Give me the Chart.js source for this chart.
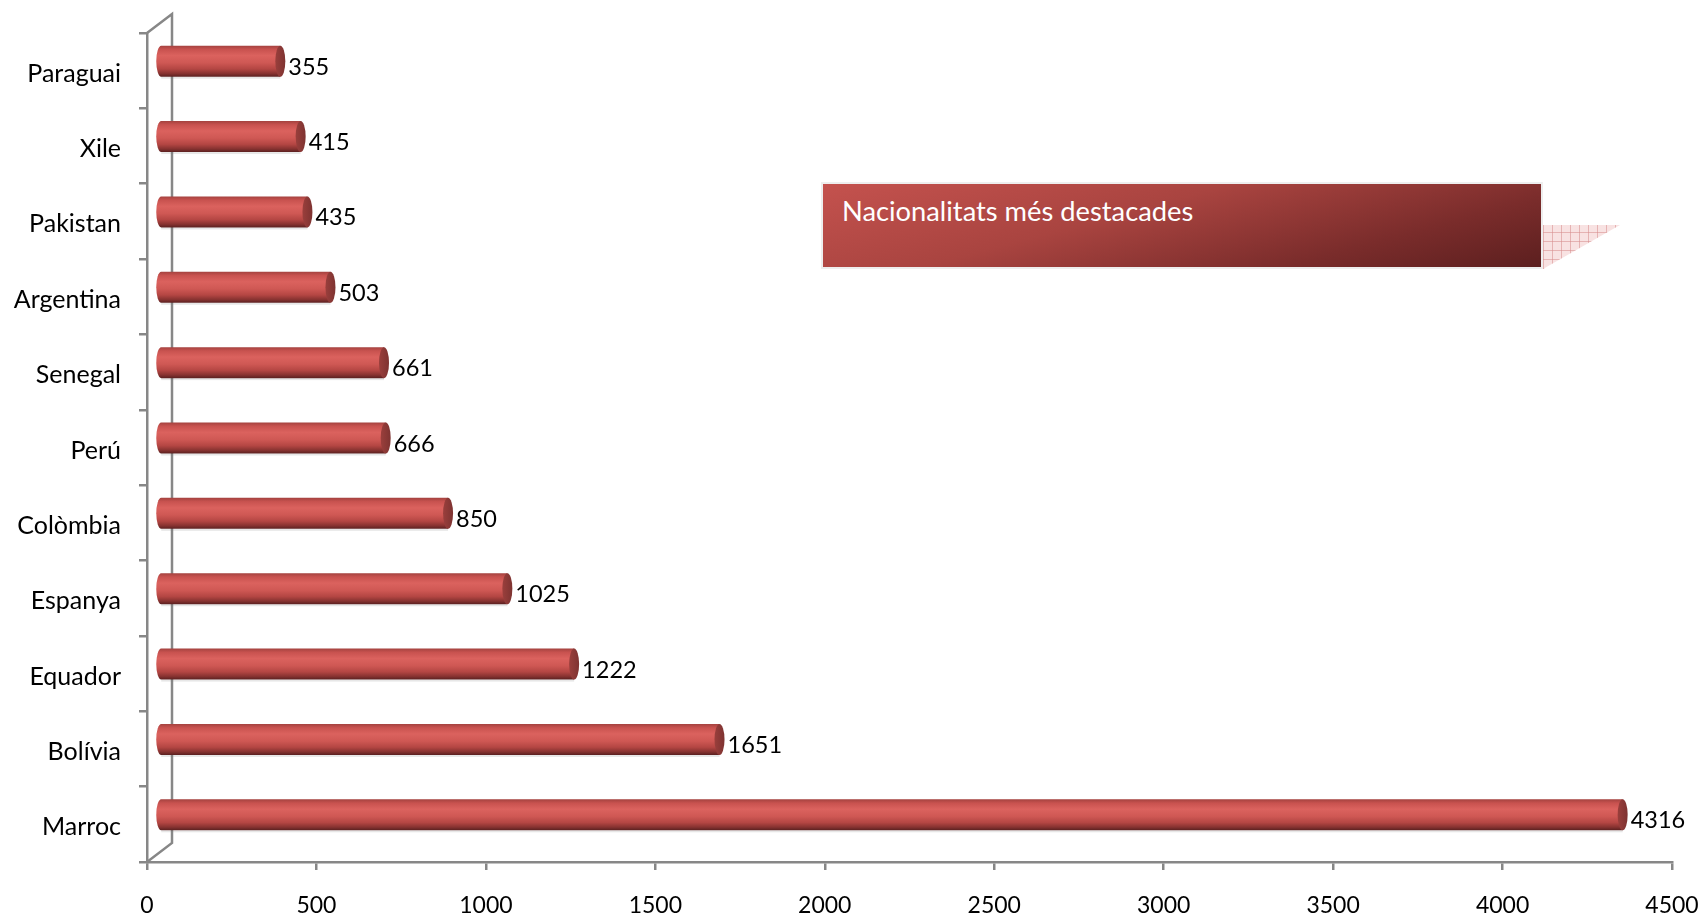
<!DOCTYPE html>
<html>
<head>
<meta charset="utf-8">
<script src="https://cdn.jsdelivr.net/npm/chart.js@4/dist/chart.umd.min.js"></script>
<style>
  html, body { margin: 0; padding: 0; background: #fff; }
  #wrap { position: relative; width: 1706px; height: 918px; overflow: hidden; }
  #c { display: block; }
  #title {
    position: absolute; left: 821px; top: 182px; width: 718px; height: 83px;
    border: 2px solid #eeeeee;
    background: linear-gradient(165deg, #c4524e 0%, #a94440 40%, #7a2c2b 75%, #5c1f1f 100%);
    color: #fff; font: 27.3px Lato, "Open Sans", sans-serif;
  }
  #title span { position: absolute; left: 19px; top: 10px; }
  #tab {
    position: absolute; left: 1543px; top: 225px; width: 77px; height: 44px;
    clip-path: polygon(0 0, 100% 0, 0 100%);
    background-color: #f8e2e2;
    background-image:
      repeating-linear-gradient(0deg, rgba(214,140,140,0.55) 0 1px, transparent 1px 9px),
      repeating-linear-gradient(90deg, rgba(214,140,140,0.55) 0 1px, transparent 1px 9px);
  }
</style>
</head>
<body>
<div id="wrap">
  <canvas id="c" width="1706" height="918"></canvas>
  <div id="title"><span>Nacionalitats més destacades</span></div>
  <div id="tab"></div>
</div>
<script>
  const categories = ['Paraguai', 'Xile', 'Pakistan', 'Argentina', 'Senegal', 'Perú',
    'Colòmbia', 'Espanya', 'Equador', 'Bolívia', 'Marroc'];
  const values = [355, 415, 435, 503, 661, 666, 850, 1025, 1222, 1651, 4316];
  const xTicks = [0, 500, 1000, 1500, 2000, 2500, 3000, 3500, 4000, 4500];

  const axisGray = '#878787';
  const depth = { dx: 25, dy: -19 };
  const barShift = { dx: 13, dy: -9.5 };
  const font = 'Lato, "Open Sans", sans-serif';

  // 3D-ish frame and cylinder bars
  const cylinders = {
    id: 'cylinders',
    beforeDatasetsDraw(chart) {
      const { ctx, chartArea: a } = chart;
      ctx.save();
      ctx.strokeStyle = axisGray;
      ctx.lineWidth = 2.5;
      ctx.beginPath();
      ctx.moveTo(a.left, a.top);
      ctx.lineTo(a.left + depth.dx, a.top + depth.dy);
      ctx.lineTo(a.left + depth.dx, a.bottom + depth.dy);
      ctx.lineTo(a.left, a.bottom);
      ctx.stroke();
      ctx.restore();
    },
    afterDatasetsDraw(chart) {
      const { ctx } = chart;
      const meta = chart.getDatasetMeta(0);
      ctx.save();
      ctx.translate(barShift.dx, barShift.dy);
      meta.data.forEach((bar, i) => {
        const h = bar.height;
        const top = bar.y - h / 2;
        const bot = bar.y + h / 2;
        const x0 = bar.base;
        const x1 = bar.x;
        const rx = 5;
        const g = ctx.createLinearGradient(0, top, 0, bot);
        g.addColorStop(0, '#a4423f');
        g.addColorStop(0.12, '#c8524f');
        g.addColorStop(0.32, '#db625e');
        g.addColorStop(0.55, '#cf5854');
        g.addColorStop(0.75, '#b44643');
        g.addColorStop(0.9, '#863230');
        g.addColorStop(1, '#5a2020');
        ctx.fillStyle = 'rgba(120,120,120,0.18)';
        ctx.fillRect(x0, bot, x1 - x0, 2);
        ctx.beginPath();
        ctx.moveTo(x1, top);
        ctx.lineTo(x0, top);
        ctx.ellipse(x0, bar.y, rx, h / 2, 0, -Math.PI / 2, Math.PI / 2, true);
        ctx.lineTo(x1, bot);
        ctx.closePath();
        ctx.fillStyle = g;
        ctx.fill();
        const cg = ctx.createLinearGradient(x1 - rx, 0, x1 + rx, 0);
        cg.addColorStop(0, '#9a3f3c');
        cg.addColorStop(1, '#7e3331');
        ctx.beginPath();
        ctx.ellipse(x1, bar.y, rx, h / 2, 0, 0, Math.PI * 2);
        ctx.fillStyle = cg;
        ctx.fill();
        ctx.fillStyle = '#000';
        ctx.font = '23.5px ' + font;
        ctx.textAlign = 'left';
        ctx.textBaseline = 'middle';
        ctx.fillText(String(values[i]), x1 + rx + 3, bar.y + 6);
      });
      ctx.restore();
    }
  };

  new Chart(document.getElementById('c'), {
    type: 'bar',
    data: {
      labels: categories,
      datasets: [{
        data: values,
        backgroundColor: 'rgba(0,0,0,0)',
        borderWidth: 0,
        barThickness: 31
      }]
    },
    options: {
      indexAxis: 'y',
      responsive: false,
      animation: false,
      layout: { padding: { top: 33, right: 34, left: 0, bottom: 0 } },
      plugins: { legend: { display: false }, tooltip: { enabled: false } },
      scales: {
        x: {
          min: 0,
          max: 4500,
          afterBuildTicks(scale) { scale.ticks = xTicks.map((v) => ({ value: v })); },
          afterFit(scale) {
            scale.height = 56;
            scale.paddingLeft = 0;
            scale.paddingRight = 0;
          },
          grid: { drawOnChartArea: false, color: axisGray, lineWidth: 2.5, tickLength: 8 },
          border: { color: axisGray, width: 2.5 },
          ticks: {
            color: '#000', font: { family: font, size: 23 }, padding: 22, maxRotation: 0,
            callback: (v) => String(v)
          }
        },
        y: {
          afterFit(scale) { scale.width = 147; },
          grid: { drawOnChartArea: false, color: axisGray, lineWidth: 2.5, tickLength: 8, offset: true },
          border: { color: axisGray, width: 2.5 },
          ticks: { color: '#000', font: { family: font, size: 25 }, padding: 18, labelOffset: 3 }
        }
      }
    },
    plugins: [cylinders]
  });
</script>
</body>
</html>
